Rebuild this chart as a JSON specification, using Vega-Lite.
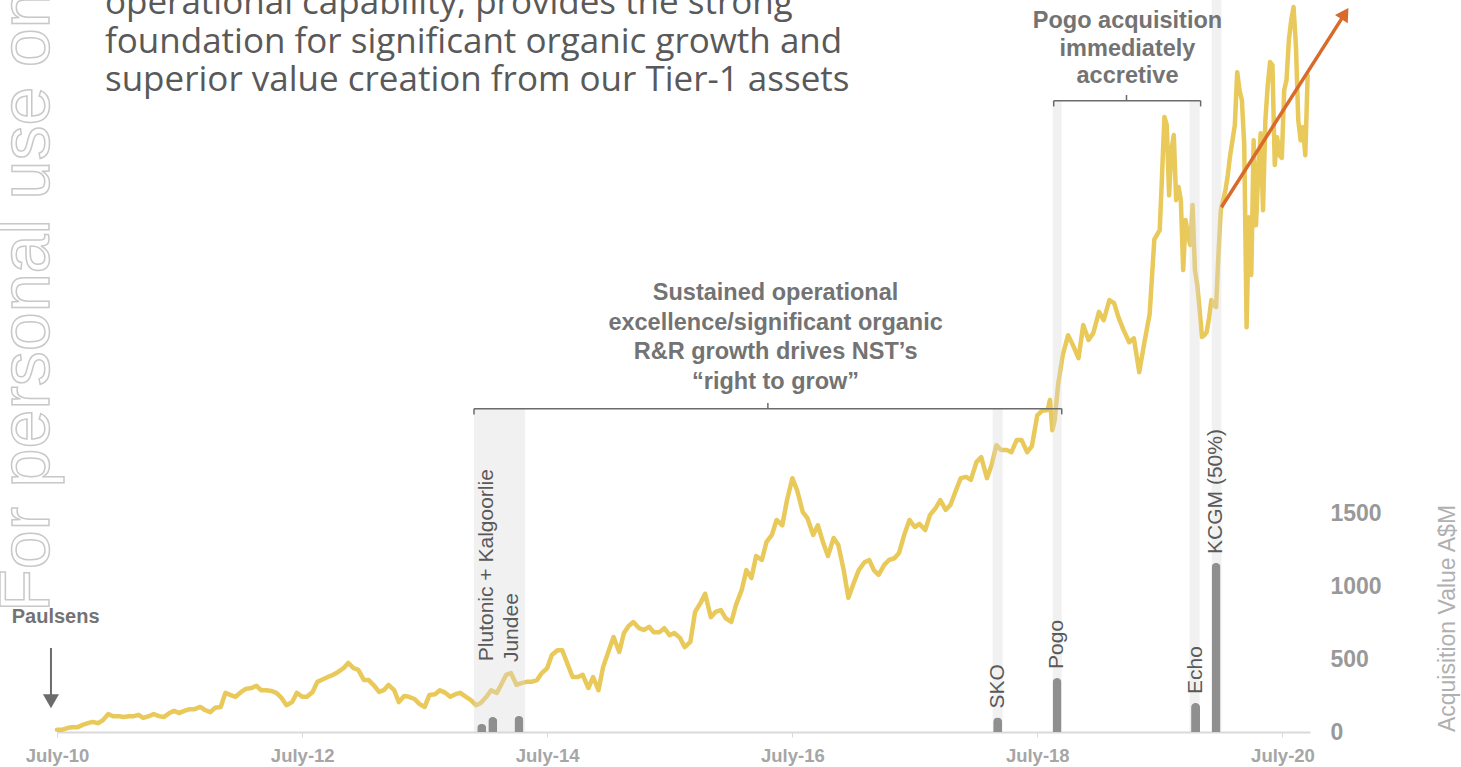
{
  "$schema": "https://vega.github.io/schema/vega-lite/v6.json",
  "width": 1253,
  "height": 732,
  "autosize": {"type": "none"},
  "padding": {"left": 57, "top": 0, "right": 151, "bottom": 35},
  "background": "white",
  "config": {"view": {"stroke": null}, "font": "Liberation Sans"},
  "datasets": {
    "one": [{}],
    "price": [
      {"date":"2010-07-01","price":0.05},{"date":"2010-07-15","price":0.05},{"date":"2010-08-01","price":0.09},{"date":"2010-08-15","price":0.11},
      {"date":"2010-09-01","price":0.11},{"date":"2010-09-15","price":0.16},{"date":"2010-10-01","price":0.20},{"date":"2010-10-15","price":0.23},
      {"date":"2010-11-01","price":0.20},{"date":"2010-11-15","price":0.27},{"date":"2010-12-01","price":0.41},{"date":"2010-12-15","price":0.36},
      {"date":"2011-01-01","price":0.36},{"date":"2011-01-15","price":0.34},{"date":"2011-02-01","price":0.36},{"date":"2011-02-15","price":0.36},
      {"date":"2011-03-01","price":0.39},{"date":"2011-03-15","price":0.32},{"date":"2011-04-01","price":0.36},{"date":"2011-04-15","price":0.41},
      {"date":"2011-05-01","price":0.36},{"date":"2011-05-15","price":0.34},{"date":"2011-06-01","price":0.43},{"date":"2011-06-15","price":0.48},
      {"date":"2011-07-01","price":0.43},{"date":"2011-07-15","price":0.48},{"date":"2011-08-01","price":0.52},{"date":"2011-08-15","price":0.52},
      {"date":"2011-09-01","price":0.57},{"date":"2011-09-15","price":0.50},{"date":"2011-10-01","price":0.45},{"date":"2011-10-15","price":0.55},
      {"date":"2011-11-01","price":0.57},{"date":"2011-11-15","price":0.89},{"date":"2011-12-01","price":0.84},{"date":"2011-12-15","price":0.80},
      {"date":"2012-01-01","price":0.91},{"date":"2012-01-15","price":0.98},{"date":"2012-02-01","price":1.00},{"date":"2012-02-15","price":1.05},
      {"date":"2012-03-01","price":0.95},{"date":"2012-03-15","price":0.95},{"date":"2012-04-01","price":0.93},{"date":"2012-04-15","price":0.89},
      {"date":"2012-05-01","price":0.77},{"date":"2012-05-15","price":0.61},{"date":"2012-06-01","price":0.68},{"date":"2012-06-15","price":0.89},
      {"date":"2012-07-01","price":0.80},{"date":"2012-07-15","price":0.80},{"date":"2012-08-01","price":0.91},{"date":"2012-08-15","price":1.14},
      {"date":"2012-09-01","price":1.20},{"date":"2012-09-15","price":1.25},{"date":"2012-10-01","price":1.30},{"date":"2012-10-15","price":1.36},
      {"date":"2012-11-01","price":1.45},{"date":"2012-11-15","price":1.57},{"date":"2012-12-01","price":1.45},{"date":"2012-12-15","price":1.41},
      {"date":"2013-01-01","price":1.18},{"date":"2013-01-15","price":1.18},{"date":"2013-02-01","price":1.05},{"date":"2013-02-15","price":0.91},
      {"date":"2013-03-01","price":0.95},{"date":"2013-03-15","price":1.07},{"date":"2013-04-01","price":0.95},{"date":"2013-04-15","price":0.68},
      {"date":"2013-05-01","price":0.82},{"date":"2013-05-15","price":0.80},{"date":"2013-06-01","price":0.75},{"date":"2013-06-15","price":0.64},
      {"date":"2013-07-01","price":0.57},{"date":"2013-07-15","price":0.84},{"date":"2013-08-01","price":0.86},{"date":"2013-08-15","price":0.95},
      {"date":"2013-09-01","price":0.89},{"date":"2013-09-15","price":0.80},{"date":"2013-10-01","price":0.86},{"date":"2013-10-15","price":0.89},
      {"date":"2013-11-01","price":0.80},{"date":"2013-11-15","price":0.73},{"date":"2013-12-01","price":0.61},{"date":"2013-12-15","price":0.66},
      {"date":"2014-01-01","price":0.80},{"date":"2014-01-15","price":0.95},{"date":"2014-02-01","price":0.89},{"date":"2014-02-15","price":1.09},
      {"date":"2014-03-01","price":1.30},{"date":"2014-03-15","price":1.34},{"date":"2014-04-01","price":1.07},{"date":"2014-04-15","price":1.11},
      {"date":"2014-05-01","price":1.14},{"date":"2014-05-15","price":1.14},{"date":"2014-06-01","price":1.18},{"date":"2014-06-15","price":1.34},
      {"date":"2014-07-01","price":1.45},{"date":"2014-07-15","price":1.75},{"date":"2014-08-01","price":1.86},{"date":"2014-08-15","price":1.86},
      {"date":"2014-09-01","price":1.52},{"date":"2014-09-15","price":1.25},{"date":"2014-10-01","price":1.25},{"date":"2014-10-15","price":1.30},
      {"date":"2014-11-01","price":1.00},{"date":"2014-11-15","price":1.25},{"date":"2014-12-01","price":0.95},{"date":"2014-12-15","price":1.48},
      {"date":"2015-01-01","price":1.86},{"date":"2015-01-15","price":2.16},{"date":"2015-02-01","price":1.82},{"date":"2015-02-15","price":2.25},
      {"date":"2015-03-01","price":2.41},{"date":"2015-03-15","price":2.50},{"date":"2015-04-01","price":2.36},{"date":"2015-04-15","price":2.32},
      {"date":"2015-05-01","price":2.39},{"date":"2015-05-15","price":2.27},{"date":"2015-06-01","price":2.27},{"date":"2015-06-15","price":2.36},
      {"date":"2015-07-01","price":2.20},{"date":"2015-07-15","price":2.25},{"date":"2015-08-01","price":2.14},{"date":"2015-08-15","price":1.93},
      {"date":"2015-09-01","price":2.05},{"date":"2015-09-15","price":2.73},{"date":"2015-10-01","price":2.93},{"date":"2015-10-15","price":3.14},
      {"date":"2015-11-01","price":2.61},{"date":"2015-11-15","price":2.73},{"date":"2015-12-01","price":2.77},{"date":"2015-12-15","price":2.59},
      {"date":"2016-01-01","price":2.50},{"date":"2016-01-15","price":2.89},{"date":"2016-02-01","price":3.23},{"date":"2016-02-15","price":3.68},
      {"date":"2016-03-01","price":3.50},{"date":"2016-03-15","price":4.00},{"date":"2016-04-01","price":3.91},{"date":"2016-04-15","price":4.32},
      {"date":"2016-05-01","price":4.48},{"date":"2016-05-15","price":4.82},{"date":"2016-06-01","price":4.70},{"date":"2016-06-15","price":5.27},
      {"date":"2016-07-01","price":5.77},{"date":"2016-07-15","price":5.50},{"date":"2016-08-01","price":5.00},{"date":"2016-08-15","price":4.86},
      {"date":"2016-09-01","price":4.48},{"date":"2016-09-15","price":4.70},{"date":"2016-10-01","price":4.30},{"date":"2016-10-15","price":4.00},
      {"date":"2016-11-01","price":4.41},{"date":"2016-11-15","price":4.25},{"date":"2016-12-01","price":3.68},{"date":"2016-12-15","price":3.05},
      {"date":"2017-01-01","price":3.41},{"date":"2017-01-15","price":3.68},{"date":"2017-02-01","price":3.86},{"date":"2017-02-15","price":3.91},
      {"date":"2017-03-01","price":3.68},{"date":"2017-03-15","price":3.57},{"date":"2017-04-01","price":3.80},{"date":"2017-04-15","price":3.91},
      {"date":"2017-05-01","price":3.95},{"date":"2017-05-15","price":4.07},{"date":"2017-06-01","price":4.52},{"date":"2017-06-15","price":4.82},
      {"date":"2017-07-01","price":4.66},{"date":"2017-07-15","price":4.73},{"date":"2017-08-01","price":4.59},{"date":"2017-08-15","price":4.93},
      {"date":"2017-09-01","price":5.09},{"date":"2017-09-15","price":5.27},{"date":"2017-10-01","price":5.05},{"date":"2017-10-15","price":5.16},
      {"date":"2017-11-01","price":5.50},{"date":"2017-11-15","price":5.77},{"date":"2017-12-01","price":5.80},{"date":"2017-12-15","price":5.73},
      {"date":"2018-01-01","price":6.14},{"date":"2018-01-15","price":6.25},{"date":"2018-02-01","price":5.77},{"date":"2018-02-15","price":6.07},
      {"date":"2018-03-01","price":6.52},{"date":"2018-03-15","price":6.41},{"date":"2018-04-01","price":6.41},{"date":"2018-04-15","price":6.36},
      {"date":"2018-05-01","price":6.64},{"date":"2018-05-15","price":6.64},{"date":"2018-06-01","price":6.36},{"date":"2018-06-15","price":6.50},
      {"date":"2018-07-01","price":7.20},{"date":"2018-07-15","price":7.30},{"date":"2018-08-01","price":7.32},{"date":"2018-08-08","price":7.55},
      {"date":"2018-08-15","price":6.86},{"date":"2018-08-22","price":7.09},{"date":"2018-09-01","price":7.89},{"date":"2018-09-15","price":8.57},
      {"date":"2018-10-01","price":9.02},{"date":"2018-10-15","price":8.80},{"date":"2018-11-01","price":8.50},{"date":"2018-11-15","price":9.25},
      {"date":"2018-12-01","price":8.91},{"date":"2018-12-15","price":9.07},{"date":"2019-01-01","price":9.55},{"date":"2019-01-15","price":9.36},
      {"date":"2019-02-01","price":9.82},{"date":"2019-02-15","price":9.75},{"date":"2019-03-01","price":9.41},{"date":"2019-03-15","price":9.14},
      {"date":"2019-04-01","price":8.86},{"date":"2019-04-15","price":8.95},{"date":"2019-05-01","price":8.18},{"date":"2019-05-15","price":8.80},
      {"date":"2019-06-01","price":9.50},{"date":"2019-06-15","price":11.20},{"date":"2019-07-01","price":11.41},{"date":"2019-07-08","price":12.66},
      {"date":"2019-07-15","price":13.98},{"date":"2019-07-22","price":13.80},{"date":"2019-07-29","price":12.20},{"date":"2019-08-05","price":13.23},
      {"date":"2019-08-12","price":13.57},{"date":"2019-08-19","price":12.09},{"date":"2019-08-26","price":12.39},{"date":"2019-09-02","price":12.09},
      {"date":"2019-09-09","price":10.50},{"date":"2019-09-16","price":11.64},{"date":"2019-09-23","price":11.30},{"date":"2019-09-30","price":11.07},
      {"date":"2019-10-07","price":11.98},{"date":"2019-10-14","price":10.50},{"date":"2019-10-21","price":10.16},{"date":"2019-10-28","price":9.59},
      {"date":"2019-11-04","price":8.98},{"date":"2019-11-11","price":9.02},{"date":"2019-11-18","price":9.09},{"date":"2019-11-25","price":9.41},
      {"date":"2019-12-02","price":9.82},{"date":"2019-12-09","price":9.70},{"date":"2019-12-16","price":9.66},{"date":"2019-12-23","price":10.84},
      {"date":"2019-12-30","price":11.86},{"date":"2020-01-06","price":12.09},{"date":"2020-01-13","price":12.32},{"date":"2020-01-20","price":12.66},
      {"date":"2020-01-27","price":13.11},{"date":"2020-02-03","price":13.45},{"date":"2020-02-10","price":13.80},{"date":"2020-02-17","price":15.00},
      {"date":"2020-02-24","price":14.59},{"date":"2020-03-02","price":14.36},{"date":"2020-03-09","price":13.34},{"date":"2020-03-16","price":9.20},
      {"date":"2020-03-23","price":11.70},{"date":"2020-03-30","price":10.39},{"date":"2020-04-06","price":13.45},{"date":"2020-04-13","price":11.52},
      {"date":"2020-04-20","price":12.77},{"date":"2020-04-27","price":13.61},{"date":"2020-05-04","price":11.86},{"date":"2020-05-11","price":13.91},
      {"date":"2020-05-18","price":14.70},{"date":"2020-05-25","price":15.23},{"date":"2020-06-01","price":15.16},{"date":"2020-06-08","price":12.89},
      {"date":"2020-06-15","price":13.52},{"date":"2020-06-22","price":13.11},{"date":"2020-06-29","price":13.05},{"date":"2020-07-06","price":14.59},
      {"date":"2020-07-13","price":14.82},{"date":"2020-07-20","price":15.73},{"date":"2020-07-27","price":16.18},{"date":"2020-08-03","price":16.48},
      {"date":"2020-08-10","price":15.61},{"date":"2020-08-17","price":13.91},{"date":"2020-08-24","price":13.45},{"date":"2020-08-31","price":13.75},
      {"date":"2020-09-07","price":13.11},{"date":"2020-09-14","price":14.93}
    ],
    "acq": [
      {"name":"Plutonic","date":"2013-12-18","value":55},
      {"name":"Kalgoorlie","date":"2014-01-20","value":103},
      {"name":"Jundee","date":"2014-04-08","value":110},
      {"name":"SKO","date":"2018-03-05","value":100,"label":"SKO"},
      {"name":"Pogo","date":"2018-08-29","value":370,"label":"Pogo"},
      {"name":"Echo","date":"2019-10-16","value":199,"label":"Echo"},
      {"name":"KCGM","date":"2019-12-16","value":1158,"label":"KCGM (50%)"}
    ],
    "bands": [
      {"start":"2013-11-25","end":"2014-04-26","top":7.34},
      {"start":"2018-02-18","end":"2018-03-20","top":7.34},
      {"start":"2018-08-16","end":"2018-09-12","top":14.36},
      {"start":"2019-09-28","end":"2019-10-28","top":14.36},
      {"start":"2019-12-03","end":"2020-01-01","top":16.64}
    ]
  },
  "layer": [
    {
      "layer": [
        {
          "data": {"name": "price"},
          "mark": {"type": "line", "color": "#E8C95A", "strokeWidth": 4.5, "strokeJoin": "round", "strokeCap": "round"},
          "encoding": {
            "x": {
              "field": "date", "type": "temporal", "title": null,
              "scale": {"domain": [{"year": 2010, "month": 7, "date": 1}, {"year": 2020, "month": 9, "date": 21}], "nice": false, "padding": 0},
              "axis": {
                "values": [{"year": 2010, "month": 7, "date": 1}, {"year": 2012, "month": 7, "date": 1}, {"year": 2014, "month": 7, "date": 1}, {"year": 2016, "month": 7, "date": 1}, {"year": 2018, "month": 7, "date": 1}, {"year": 2020, "month": 7, "date": 1}],
                "labelExpr": "'July-' + timeFormat(datum.value, '%y')",
                "labelFont": "Liberation Sans", "labelFontSize": 18.5, "labelFontWeight": "bold", "labelColor": "#a6a6a6",
                "domainColor": "#d9d9d9", "domainWidth": 2, "tickColor": "#d9d9d9", "tickSize": 5, "tickWidth": 1,
                "labelPadding": 9, "grid": false, "labelFlush": false, "labelOverlap": false
              }
            },
            "y": {"field": "price", "type": "quantitative", "scale": {"domain": [0, 16.64], "nice": false, "zero": false}, "axis": null}
          }
        },
        {
          "data": {"name": "bands"},
          "mark": {"type": "rect", "color": "#d9d9d9", "opacity": 0.36},
          "encoding": {
            "x": {"field": "start", "type": "temporal", "title": null},
            "x2": {"field": "end"},
            "y": {"field": "top", "type": "quantitative", "axis": null},
            "y2": {"datum": 0}
          }
        },
        {
          "data": {"name": "one"},
          "mark": {"type": "rule", "color": "#6b6b6b", "strokeWidth": 1.5},
          "encoding": {
            "x": {"datum": {"year": 2013, "month": 11, "date": 25}, "type": "temporal", "title": null},
            "x2": {"datum": {"year": 2018, "month": 9, "date": 12}},
            "y": {"datum": 7.35, "type": "quantitative", "axis": null}
          }
        },
        {
          "data": {"values": [{"d": "2013-11-25"}, {"d": "2018-09-12"}]},
          "mark": {"type": "rule", "color": "#6b6b6b", "strokeWidth": 1.5},
          "encoding": {
            "x": {"field": "d", "type": "temporal", "title": null},
            "y": {"datum": 7.35, "type": "quantitative", "axis": null},
            "y2": {"datum": 7.22}
          }
        },
        {
          "data": {"name": "one"},
          "mark": {"type": "rule", "color": "#6b6b6b", "strokeWidth": 1.5},
          "encoding": {
            "x": {"datum": {"year": 2016, "month": 4, "date": 19}, "type": "temporal", "title": null},
            "y": {"datum": 7.35, "type": "quantitative", "axis": null},
            "y2": {"datum": 7.48}
          }
        },
        {
          "data": {"name": "one"},
          "mark": {"type": "rule", "color": "#6b6b6b", "strokeWidth": 1.5},
          "encoding": {
            "x": {"datum": {"year": 2018, "month": 8, "date": 19}, "type": "temporal", "title": null},
            "x2": {"datum": {"year": 2019, "month": 10, "date": 31}},
            "y": {"datum": 14.35, "type": "quantitative", "axis": null}
          }
        },
        {
          "data": {"values": [{"d": "2018-08-19"}, {"d": "2019-10-31"}]},
          "mark": {"type": "rule", "color": "#6b6b6b", "strokeWidth": 1.5},
          "encoding": {
            "x": {"field": "d", "type": "temporal", "title": null},
            "y": {"datum": 14.35, "type": "quantitative", "axis": null},
            "y2": {"datum": 14.22}
          }
        },
        {
          "data": {"name": "one"},
          "mark": {"type": "rule", "color": "#6b6b6b", "strokeWidth": 1.5},
          "encoding": {
            "x": {"datum": {"year": 2019, "month": 3, "date": 24}, "type": "temporal", "title": null},
            "y": {"datum": 14.35, "type": "quantitative", "axis": null},
            "y2": {"datum": 14.48}
          }
        },
        {
          "data": {"name": "one"},
          "mark": {"type": "rule", "color": "#D86B2C", "strokeWidth": 3.5},
          "encoding": {
            "x": {"datum": {"year": 2020, "month": 1, "date": 1}, "type": "temporal", "title": null},
            "x2": {"datum": {"year": 2021, "month": 1, "date": 3}},
            "y": {"datum": 11.93, "type": "quantitative", "axis": null},
            "y2": {"datum": 16.33}
          }
        },
        {
          "data": {"name": "one"},
          "mark": {"type": "point", "shape": "triangle-up", "filled": true, "color": "#D86B2C", "opacity": 1, "size": 230, "angle": 32.6},
          "encoding": {
            "x": {"datum": {"year": 2021, "month": 1, "date": 3}, "type": "temporal", "title": null},
            "y": {"datum": 16.33, "type": "quantitative", "axis": null}
          }
        },
        {
          "data": {"name": "one"},
          "mark": {"type": "rule", "color": "#6b6b6b", "strokeWidth": 2},
          "encoding": {
            "x": {"datum": {"year": 2010, "month": 6, "date": 13}, "type": "temporal", "title": null},
            "y": {"datum": 1.91, "type": "quantitative", "axis": null},
            "y2": {"datum": 0.80}
          }
        },
        {
          "data": {"name": "one"},
          "mark": {"type": "point", "shape": "triangle-down", "filled": true, "color": "#6b6b6b", "opacity": 1, "size": 256},
          "encoding": {
            "x": {"datum": {"year": 2010, "month": 6, "date": 13}, "type": "temporal", "title": null},
            "y": {"datum": 0.70, "type": "quantitative", "axis": null}
          }
        },
        {
          "data": {"name": "one"},
          "mark": {"type": "text", "text": "Paulsens", "font": "Liberation Sans", "fontSize": 20, "fontWeight": "bold", "color": "#737373", "align": "center", "baseline": "alphabetic"},
          "encoding": {
            "x": {"datum": {"year": 2010, "month": 6, "date": 27}, "type": "temporal", "title": null},
            "y": {"datum": 2.48, "type": "quantitative", "axis": null}
          }
        },
        {
          "data": {"name": "one"},
          "mark": {"type": "text", "text": ["Sustained operational", "excellence/significant organic", "R&R growth drives NST’s", "“right to grow”"], "font": "Liberation Sans", "fontSize": 23.5, "fontWeight": "bold", "color": "#737373", "align": "center", "baseline": "alphabetic", "lineHeight": 29.5},
          "encoding": {
            "x": {"datum": {"year": 2016, "month": 5, "date": 12}, "type": "temporal", "title": null},
            "y": {"datum": 9.82, "type": "quantitative", "axis": null}
          }
        },
        {
          "data": {"name": "one"},
          "mark": {"type": "text", "text": ["Pogo acquisition", "immediately", "accretive"], "font": "Liberation Sans", "fontSize": 23.5, "fontWeight": "bold", "color": "#737373", "align": "center", "baseline": "alphabetic", "lineHeight": 27.5},
          "encoding": {
            "x": {"datum": {"year": 2019, "month": 3, "date": 27}, "type": "temporal", "title": null},
            "y": {"datum": 16.0, "type": "quantitative", "axis": null}
          }
        },
        {
          "data": {"name": "one"},
          "mark": {"type": "text", "text": ["operational capability, provides the strong", "foundation for significant organic growth and", "superior value creation from our Tier-1 assets"], "font": "Open Sans", "fontSize": 35, "color": "#595959", "align": "left", "baseline": "alphabetic", "lineHeight": 38.5},
          "encoding": {
            "x": {"datum": {"year": 2010, "month": 11, "date": 21}, "type": "temporal", "title": null},
            "y": {"datum": 16.32, "type": "quantitative", "axis": null}
          }
        },
        {
          "data": {"name": "one"},
          "mark": {"type": "text", "text": "For personal use only", "font": "Liberation Sans", "fontSize": 70, "fill": "white", "stroke": "#c8c8c8", "strokeWidth": 1.5, "angle": 270, "align": "left", "baseline": "alphabetic"},
          "encoding": {
            "x": {"datum": {"year": 2010, "month": 6, "date": 7}, "type": "temporal", "title": null},
            "y": {"datum": 2.73, "type": "quantitative", "axis": null}
          }
        },
        {
          "data": {"name": "one"},
          "mark": {"type": "text", "text": "Plutonic + Kalgoorlie", "font": "Liberation Sans", "fontSize": 21, "color": "#595959", "angle": 270, "align": "left", "baseline": "middle"},
          "encoding": {
            "x": {"datum": {"year": 2014, "month": 1, "date": 2}, "type": "temporal", "title": null},
            "y": {"datum": 1.61, "type": "quantitative", "axis": null}
          }
        },
        {
          "data": {"name": "one"},
          "mark": {"type": "text", "text": "Jundee", "font": "Liberation Sans", "fontSize": 21, "color": "#595959", "angle": 270, "align": "left", "baseline": "middle"},
          "encoding": {
            "x": {"datum": {"year": 2014, "month": 3, "date": 18}, "type": "temporal", "title": null},
            "y": {"datum": 1.59, "type": "quantitative", "axis": null}
          }
        }
      ]
    },
    {
      "layer": [
        {
          "data": {"name": "acq"},
          "mark": {"type": "bar", "width": 9, "color": "#8f8f8f", "cornerRadiusTopLeft": 4.5, "cornerRadiusTopRight": 4.5},
          "encoding": {
            "x": {"field": "date", "type": "temporal", "title": null},
            "y": {
              "field": "value", "type": "quantitative", "scale": {"domain": [0, 5014], "nice": false},
              "axis": {
                "orient": "right", "values": [0, 500, 1000, 1500], "format": "d", "title": "Acquisition Value A$M",
                "labelFont": "Liberation Sans", "labelFontSize": 23, "labelFontWeight": "bold", "labelColor": "#999999",
                "labelAlign": "left", "labelBaseline": "middle", "labelPadding": 20, "ticks": false, "tickSize": 0, "domain": false, "grid": false,
                "titleFont": "Liberation Sans", "titleFontSize": 23, "titleFontWeight": "normal", "titleColor": "#b0b0b0",
                "titleAngle": 270, "titleX": 137, "titleY": 618, "titleAlign": "center", "titleBaseline": "middle"
              }
            }
          }
        },
        {
          "data": {"name": "acq"},
          "transform": [{"filter": "isValid(datum.label)"}],
          "mark": {"type": "text", "font": "Liberation Sans", "fontSize": 21, "color": "#595959", "angle": 270, "align": "left", "baseline": "middle", "dx": 9},
          "encoding": {
            "x": {"field": "date", "type": "temporal"},
            "y": {"field": "value", "type": "quantitative"},
            "text": {"field": "label"}
          }
        }
      ]
    }
  ],
  "resolve": {"scale": {"y": "independent"}}
}
